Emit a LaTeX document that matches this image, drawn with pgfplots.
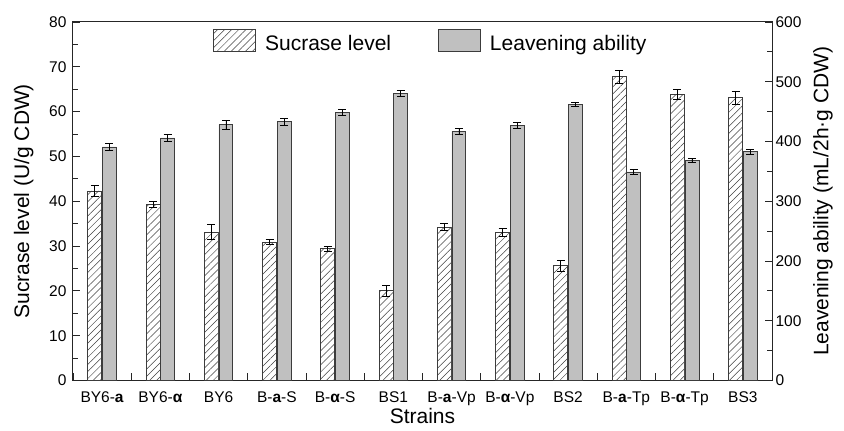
\documentclass[border=0pt]{standalone}
\usepackage{fontspec}
\setmainfont{Liberation Sans}
\usepackage{pgfplots}
\pgfplotsset{compat=1.18}
\usetikzlibrary{patterns.meta}
\definecolor{barfill}{RGB}{192,192,192}
\definecolor{edge}{RGB}{60,60,60}
\begin{document}
\begin{tikzpicture}
\pgfplotsset{
  common/.style={
    scale only axis, width=699pt, height=358.5pt,
    xmin=-0.5, xmax=11.5,
    ybar, bar width=0.24,
    tick align=inside,
    major tick length=7pt, minor tick length=5pt,
    axis line style={line width=1pt, black!85},
    tick style={line width=0.9pt, black!85},
    /pgf/number format/assume math mode=true,
    ticklabel style={font=\fontsize{15.5}{18}\selectfont},
    label style={font=\fontsize{21}{25}\selectfont},
  },
}
\begin{axis}[common, name=main,
  ymin=0, ymax=80,
  ytick={0,10,...,80}, minor ytick={5,15,...,75},
  ytick pos=left, xtick pos=bottom,
  xtick={-0.5,0.5,...,11.5}, xticklabels={},
  extra x ticks={0,1,...,11},
  extra x tick labels={BY6-\textbf{a}, BY6-\textbf{α}, BY6, B-\textbf{a}-S, B-\textbf{α}-S, BS1, B-\textbf{a}-Vp, B-\textbf{α}-Vp, BS2, B-\textbf{a}-Tp, B-\textbf{α}-Tp, BS3},
  extra x tick style={major tick length=0pt},
  xticklabel style={yshift=-8pt},
  yticklabel style={xshift=-3pt},
  xlabel={Strains},
  xlabel style={yshift=4pt},
  ylabel={Sucrase level (U/g CDW)},
  ylabel shift=9pt,
  legend style={draw=none, fill=none, legend columns=2,
    at={(0.512,0.945)}, anchor=center,
    font=\fontsize{21}{25}\selectfont,
    /tikz/every odd column/.append style={column sep=7pt},
    /tikz/every even column/.append style={column sep=45pt}},
  legend image code/.code={\draw[#1] (0pt,-8pt) rectangle (42pt,14pt);},
]
\addplot[bar shift=-0.125, draw=edge, line width=0.8pt,
  pattern={Lines[angle=45,distance=5pt,line width=0.5pt]}, pattern color=black!75,
  error bars/.cd, y dir=both, y explicit,
  error bar style={black, line width=0.8pt},
  error mark options={rotate=90, mark size=4pt, line width=0.8pt}]
coordinates {
(0,42.3) +- (0,1.2)
(1,39.3) +- (0,0.7)
(2,33.1) +- (0,1.7)
(3,30.9) +- (0,0.6)
(4,29.4) +- (0,0.56)
(5,20.0) +- (0,1.25)
(6,34.2) +- (0,0.8)
(7,33.0) +- (0,0.85)
(8,25.6) +- (0,1.15)
(9,67.8) +- (0,1.45)
(10,63.8) +- (0,1.05)
(11,63.1) +- (0,1.5)
};
\addlegendentry{Sucrase level}
\addlegendimage{draw=edge, line width=0.8pt, fill=barfill}
\addlegendentry{Leavening ability}
\end{axis}
\begin{axis}[common,
  ymin=0, ymax=600,
  axis x line=none, axis y line*=right,
  ytick={0,100,...,600}, minor ytick={50,150,...,550},
  ylabel={Leavening ability (mL/2h·g CDW)},
  ylabel shift=5pt,
]
\addplot[bar shift=0.125, draw=edge, line width=0.8pt, fill=barfill,
  error bars/.cd, y dir=both, y explicit,
  error bar style={black, line width=0.8pt},
  error mark options={rotate=90, mark size=4pt, line width=0.8pt}]
coordinates {
(0,390.8) +- (0,5.5)
(1,405.9) +- (0,6.5)
(2,428.2) +- (0,7.2)
(3,433.2) +- (0,5.5)
(4,448.2) +- (0,5.3)
(5,480.6) +- (0,4.5)
(6,417.0) +- (0,4.7)
(7,427.6) +- (0,5.0)
(8,462.3) +- (0,3.6)
(9,349.0) +- (0,4.5)
(10,368.5) +- (0,3.3)
(11,383.0) +- (0,3.9)
};
\end{axis}
\pgfresetboundingbox
\path[use as bounding box] ([xshift=-73pt,yshift=-50.5pt]main.south west) rectangle ([xshift=72pt,yshift=22pt]main.north east);
\end{tikzpicture}
\end{document}
